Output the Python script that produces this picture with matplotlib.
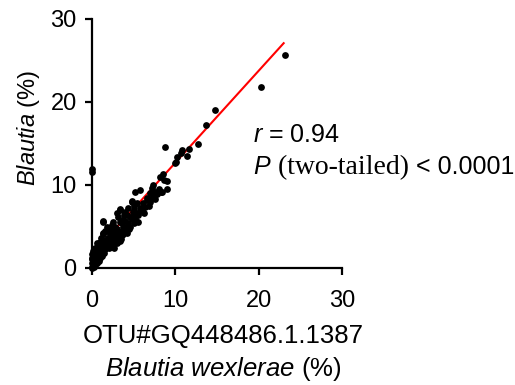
import matplotlib
matplotlib.use("Agg")
import matplotlib.pyplot as plt
import matplotlib.transforms as mtrans
import numpy as np

plt.rcParams['font.family'] = ['Liberation Sans', 'DejaVu Sans']
plt.rcParams['mathtext.fontset'] = 'custom'
plt.rcParams['mathtext.rm'] = 'Liberation Sans'
plt.rcParams['mathtext.it'] = 'Liberation Sans:italic'

# OTU#GQ448486.1.1387 (x) vs Blautia (y), both in %
otu = [23.1, 20.3, 14.8, 13.7, 12.7, 8.8, 11.6, 10.8, 10.7, 11.4, 10.2, 10.1, 10.0,
       0.0, 0.0,
       8.56, 8.16, 8.96, 7.36, 8.36, 7.56, 6.96, 5.16, 5.76, 7.16, 6.56, 4.76, 5.36,
       6.16, 5.76, 4.36, 3.96, 4.96, 4.56, 5.56, 3.36, 2.96, 3.16, 3.76, 2.56, 2.76,
       3.76, 4.36, 3.36, 2.36, 2.96, 3.56,
       9.04, 8.24, 7.36, 6.56, 4.84, 5.04, 5.56, 5.16, 3.56, 1.28, 1.76, 1.36, 8.64,
       5.96, 3.84, 3.36, 1.36,
       0.0, 0.1, 0.2, 0.3, 0.1, 0.4, 0.5, 0.2, 0.6, 0.7, 0.3, 0.8, 0.9, 0.5, 1.0,
       1.1, 0.7, 1.2, 1.3, 0.9, 1.4, 1.5, 1.1, 1.6, 1.7, 1.3, 1.8, 1.9, 1.5, 2.0,
       2.1, 2.2, 2.3, 2.5, 2.6, 2.7, 2.8, 3.0, 3.1, 3.3, 3.5, 3.7, 3.9, 4.2, 4.0,
       0.0, 0.0, 0.1, 0.15, 0.4, 0.6, 0.05, 0.25, 0.45, 0.85, 1.05, 1.25, 0.0, 0.0,
       4.6, 5.0, 5.3, 4.4, 5.56, 6.2, 6.8, 7.6,
       6.0, 6.4, 7.0, 7.8, 8.0, 4.0, 4.8, 3.0, 2.2, 1.9, 2.4, 3.4, 4.2, 5.0, 6.8]
blautia = [25.6, 21.8, 19.0, 17.2, 14.95, 14.5, 14.3, 14.2, 13.8, 13.5, 13.3, 12.7, 12.6,
           11.5, 11.9,
           11.3, 10.9, 10.4, 9.96, 9.16, 9.16, 8.96, 9.16, 9.36, 9.56, 8.35, 7.95, 7.75,
           7.75, 7.15, 7.15, 6.74, 6.74, 6.14, 6.34, 6.94, 6.54, 6.14, 5.74, 5.54, 4.93,
           4.93, 5.34, 4.33, 4.53, 3.72, 3.92,
           9.44, 9.08, 8.55, 8.15, 8.03, 7.43, 6.54, 6.14, 5.33, 5.66, 4.93, 4.13, 10.57,
           7.03, 6.34, 7.03, 5.54,
           0.0, 0.2, 0.1, 0.5, 0.8, 0.3, 0.9, 1.2, 0.5, 1.3, 1.6, 0.8, 1.7, 2.1, 1.1,
           2.2, 2.6, 1.4, 2.8, 3.1, 1.8, 3.3, 3.6, 2.2, 3.0, 4.0, 2.6, 3.6, 4.4, 2.3,
           3.2, 4.0, 2.8, 3.4, 2.4, 3.1, 4.1, 3.0, 3.5, 3.2, 3.5, 4.1, 4.4, 4.2, 4.8,
           0.5, 1.0, 1.5, 2.0, 2.4, 3.0, 0.05, 0.7, 1.1, 2.0, 2.6, 3.2, 1.2, 1.6,
           4.9, 5.4, 5.6, 4.6, 5.54, 6.6, 7.4, 8.3,
           6.9, 7.3, 7.9, 8.9, 9.5, 5.6, 5.9, 4.6, 3.6, 4.4, 5.1, 5.5, 6.3, 7.0, 8.3]

# linear regression line as drawn
fit_slope = 1.11
fit_intercept = 1.55
fit_x = [0.0, 23.0]

fig = plt.figure(figsize=(5.15, 3.85), dpi=100)
ax = fig.add_axes([92/515, 1-267.5/385, 250/515, 248.5/385])

fx = np.array(fit_x)
ax.plot(fx, fit_slope*fx + fit_intercept, color='red', lw=1.5, zorder=2)
ax.scatter(otu, blautia, s=24, color='black', zorder=3, clip_on=False, linewidths=0)

ax.set_xlim(0, 30)
ax.set_ylim(0, 30)
ax.set_xticks([0, 10, 20, 30])
ax.set_yticks([0, 10, 20, 30])
for s in ['top', 'right']:
    ax.spines[s].set_visible(False)
for s in ['left', 'bottom']:
    ax.spines[s].set_linewidth(1.6)
ax.tick_params(width=1.6, length=5, labelsize=17)
ax.tick_params(axis='x', pad=11)
ax.tick_params(axis='y', pad=6)

ax.set_ylabel(r'$Blautia$ (%)', fontsize=17)
ax.yaxis.set_label_coords(-0.20, 0.56)
ax.text(0.524, -0.304, 'OTU#GQ448486.1.1387', transform=ax.transAxes,
        ha='center', va='baseline', fontsize=18.5)
ax.text(0.524, -0.437, r'$Blautia\ wexlerae$ (%)', transform=ax.transAxes,
        ha='center', va='baseline', fontsize=18.5)

ax.text(19.3, 15.2, r'$r$ = 0.94', fontsize=18, va='baseline')

# P line with mixed fonts, pieces placed one after another
p_y = 11.3
r = fig.canvas.get_renderer()
blend = mtrans.blended_transform_factory(mtrans.IdentityTransform(), ax.transData)
t1 = ax.text(19.3, p_y, r'$P$', fontsize=18, va='baseline')
x1 = t1.get_window_extent(r).x1
t2 = ax.text(x1, p_y, ' (two-tailed)', transform=blend, fontsize=20,
             va='baseline', family='Liberation Serif')
x2 = t2.get_window_extent(r).x1
ax.text(x2, p_y, ' < 0.0001', transform=blend, fontsize=18, va='baseline')

fig.savefig('out.png', dpi=100)
